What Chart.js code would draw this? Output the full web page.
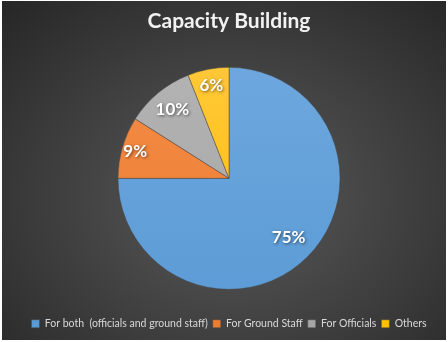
<!DOCTYPE html>
<html>
<head>
<meta charset="utf-8">
<script src="https://cdn.jsdelivr.net/npm/chart.js@4"></script>
<style>
  html, body { margin: 0; padding: 0; background: #ffffff; }
  #wrap {
    position: absolute; left: 2px; top: 1px; width: 444px; height: 339px;
    background: radial-gradient(ellipse 75% 80% at 52% 58%, #5a5a5a 0%, #3e3e3e 55%, #262626 100%);
  }
  canvas { display: block; }
</style>
</head>
<body>
<div id="wrap"><canvas id="c" width="444" height="339"></canvas></div>
<script>
const categories = ["For both  (officials and ground staff)", "For Ground Staff", "For Officials", "Others"];
const percentages = [75, 9, 10, 6];
const titleText = "Capacity Building";

const baseColors = ["#5B9BD5", "#ED7D31", "#A5A5A5", "#FFC000"];
const lightColors = ["#6FA8DF", "#F48C48", "#B4B4B4", "#FFC83D"];

function sliceFill(ctx) {
  const chart = ctx.chart;
  const area = chart.chartArea;
  if (!area) return baseColors[ctx.dataIndex];
  const g = chart.ctx.createLinearGradient(0, area.top, 0, area.bottom);
  g.addColorStop(0, lightColors[ctx.dataIndex]);
  g.addColorStop(1, baseColors[ctx.dataIndex]);
  return g;
}

const labelPlugin = {
  id: 'sliceLabels',
  afterDatasetsDraw(chart, args, opts) {
    const ctx = chart.ctx;
    const meta = chart.getDatasetMeta(0);
    ctx.save();
    ctx.font = opts.font;
    ctx.fillStyle = '#ffffff';
    ctx.textAlign = 'center';
    ctx.textBaseline = 'middle';
    ctx.shadowColor = 'rgba(0,0,0,0.55)';
    ctx.shadowBlur = 3;
    ctx.shadowOffsetX = 1;
    ctx.shadowOffsetY = 1;
    meta.data.forEach((arc, i) => {
      const p = arc.getProps(['x', 'y', 'startAngle', 'endAngle', 'outerRadius'], true);
      const mid = (p.startAngle + p.endAngle) / 2;
      const f = opts.factors[i];
      const x = p.x + Math.cos(mid) * p.outerRadius * f;
      const y = p.y + Math.sin(mid) * p.outerRadius * f;
      ctx.fillText(percentages[i] + '%', x, y);
    });
    ctx.restore();
  }
};

new Chart(document.getElementById('c'), {
  type: 'pie',
  data: {
    labels: categories,
    datasets: [{
      data: percentages,
      backgroundColor: sliceFill,
      borderColor: 'rgba(70,70,70,0.6)',
      borderWidth: 0.8,
      radius: 111
    }]
  },
  options: {
    responsive: false,
    animation: false,
    layout: { padding: { left: 10, right: 0, top: 0, bottom: 1 } },
    plugins: {
      title: {
        display: true,
        text: titleText,
        color: '#f2f2f2',
        font: { family: 'Lato', size: 21, weight: 'bold' },
        padding: { top: 8, bottom: 9 }
      },
      legend: {
        position: 'bottom',
        labels: {
          color: '#d9d9d9',
          font: { family: 'Lato', size: 10.5 },
          boxWidth: 8,
          boxHeight: 8,
          padding: 5,
          useBorderRadius: false
        }
      },
      tooltip: { enabled: false },
      sliceLabels: {
        font: 'bold 17px Lato',
        factors: [0.76, 0.88, 0.8, 0.85]
      }
    }
  },
  plugins: [labelPlugin]
});
</script>
</body>
</html>
